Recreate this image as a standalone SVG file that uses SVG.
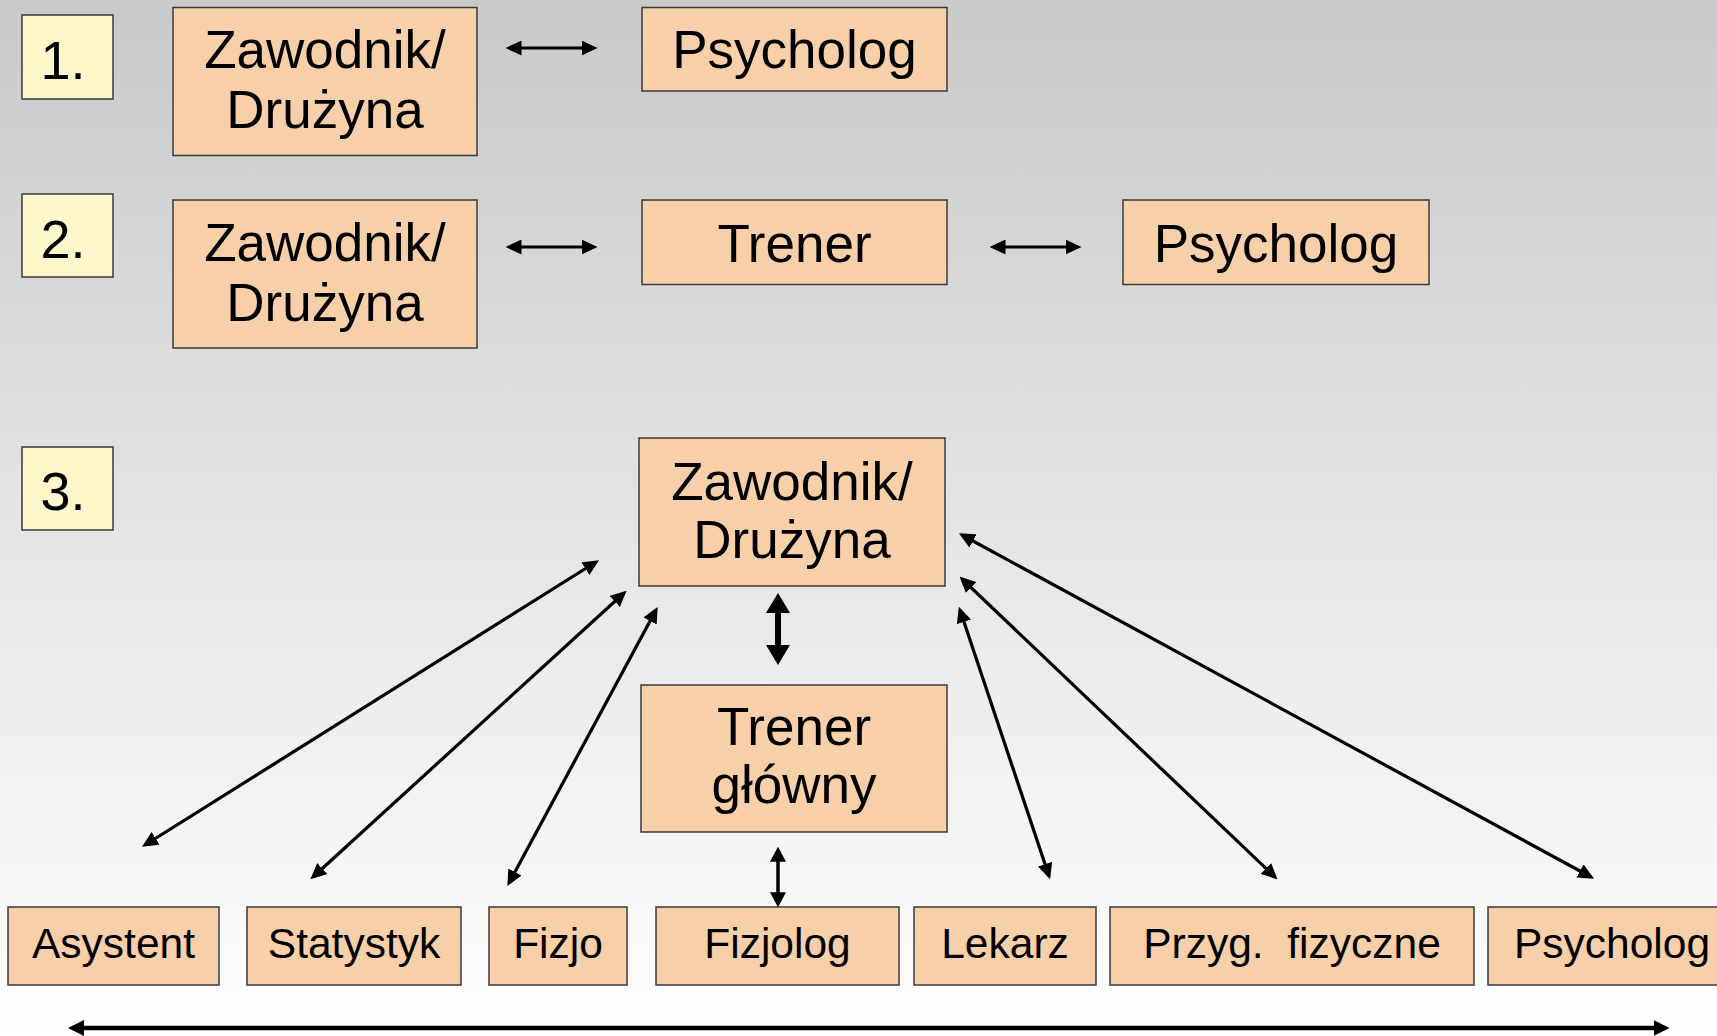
<svg xmlns="http://www.w3.org/2000/svg" width="1717" height="1036" viewBox="0 0 1717 1036">
<defs>
<linearGradient id="bg" x1="0" y1="0" x2="0" y2="1">
<stop offset="0" stop-color="#c9c9c9"/>
<stop offset="1" stop-color="#ffffff"/>
</linearGradient>
<marker id="mThin" viewBox="0 0 16 15" refX="12.5" refY="7.5" markerWidth="16" markerHeight="15" markerUnits="userSpaceOnUse" orient="auto-start-reverse"><path d="M0,0 L16,7.5 L0,15 z" fill="#000"/></marker>
<marker id="mSmall" viewBox="0 0 15 16" refX="11.7" refY="8" markerWidth="15" markerHeight="16" markerUnits="userSpaceOnUse" orient="auto-start-reverse"><path d="M0,0 L15,8 L0,16 z" fill="#000"/></marker>
<marker id="mLong" viewBox="0 0 16 16" refX="11.5" refY="8" markerWidth="16" markerHeight="16" markerUnits="userSpaceOnUse" orient="auto-start-reverse"><path d="M0,0 L16,8 L0,16 z" fill="#000"/></marker>
<marker id="mThick" viewBox="0 0 20 24" refX="15" refY="12" markerWidth="20" markerHeight="24" markerUnits="userSpaceOnUse" orient="auto-start-reverse"><path d="M0,0 L20,12 L0,24 z" fill="#000"/></marker>
</defs>
<style>
.box{fill:#f7cfa9;stroke:#3a3a3a;stroke-width:1.5}
.num{fill:#fff7cc;stroke:#3a3a3a;stroke-width:1.5}
.t{font-family:"Liberation Sans",Arial,sans-serif;fill:#000;text-anchor:middle}
.big{font-size:53px}
.sm{font-size:42.5px}
.nt{font-size:54px}
.c{fill:none;stroke:#000}
.c3{stroke-width:3.2;marker-start:url(#mThin);marker-end:url(#mThin)}
</style>
<rect x="0" y="0" width="1717" height="1036" fill="url(#bg)"/>

<g id="num1"><rect class="num" x="22" y="15" width="91" height="84"/><text class="t nt" x="63" y="79">1.</text></g>
<g id="num2"><rect class="num" x="22" y="194" width="91" height="83"/><text class="t nt" x="63" y="258">2.</text></g>
<g id="num3"><rect class="num" x="22" y="447" width="91" height="83"/><text class="t nt" x="63" y="510">3.</text></g>

<g id="zawodnik1"><rect class="box" x="173" y="7.5" width="304" height="148"/><text class="t big" x="325" y="68">Zawodnik/</text><text class="t big" x="325" y="128">Drużyna</text></g>
<g id="psycholog1"><rect class="box" x="642" y="7.5" width="305" height="83.5"/><text class="t big" x="794.5" y="68">Psycholog</text></g>

<g id="zawodnik2"><rect class="box" x="173" y="200" width="304" height="148"/><text class="t big" x="325" y="261">Zawodnik/</text><text class="t big" x="325" y="321">Drużyna</text></g>
<g id="trener2"><rect class="box" x="642" y="200" width="305" height="84.5"/><text class="t big" x="794.5" y="262">Trener</text></g>
<g id="psycholog2"><rect class="box" x="1123" y="200" width="306" height="84.5"/><text class="t big" x="1276" y="262">Psycholog</text></g>

<g id="zawodnik3"><rect class="box" x="639" y="438" width="306" height="148"/><text class="t big" x="792" y="500">Zawodnik/</text><text class="t big" x="792" y="558">Drużyna</text></g>
<g id="trenerGlowny"><rect class="box" x="641" y="685" width="306" height="147"/><text class="t big" x="794" y="745">Trener</text><text class="t big" x="794" y="803">główny</text></g>

<g id="asystent"><rect class="box" x="8" y="907" width="211" height="78"/><text class="t sm" x="113.5" y="958">Asystent</text></g>
<g id="statystyk"><rect class="box" x="247" y="907" width="214" height="78"/><text class="t sm" x="354" y="958">Statystyk</text></g>
<g id="fizjo"><rect class="box" x="489" y="907" width="138" height="78"/><text class="t sm" x="558" y="958">Fizjo</text></g>
<g id="fizjolog"><rect class="box" x="656" y="907" width="243" height="78"/><text class="t sm" x="777.5" y="958">Fizjolog</text></g>
<g id="lekarz"><rect class="box" x="914" y="907" width="182" height="78"/><text class="t sm" x="1005" y="958">Lekarz</text></g>
<g id="przyg"><rect class="box" x="1110" y="907" width="364" height="78"/><text class="t sm" x="1292" y="958" xml:space="preserve" style="white-space:pre">Przyg.  fizyczne</text></g>
<g id="psycholog3"><rect class="box" x="1488" y="907" width="252" height="78"/><text class="t sm" x="1612" y="958">Psycholog</text></g>

<g id="connectors">
<line class="c c3" x1="509" y1="48" x2="594" y2="48"/>
<line class="c c3" x1="509" y1="247" x2="594" y2="247"/>
<line class="c c3" x1="993" y1="247" x2="1078" y2="247"/>
<line class="c" stroke-width="6" marker-start="url(#mThick)" marker-end="url(#mThick)" x1="778" y1="598" x2="778" y2="660"/>
<line class="c" stroke-width="3.5" marker-start="url(#mSmall)" marker-end="url(#mSmall)" x1="778" y1="850" x2="778" y2="904"/>
<line class="c c3" x1="596" y1="562" x2="145" y2="845"/>
<line class="c c3" x1="624" y1="593" x2="313" y2="877"/>
<line class="c c3" x1="656" y1="610" x2="509" y2="883"/>
<line class="c c3" x1="960" y1="610" x2="1049" y2="876"/>
<line class="c c3" x1="962" y1="579" x2="1275" y2="877"/>
<line class="c c3" x1="962" y1="535" x2="1591" y2="877"/>
<line class="c" stroke-width="4.5" marker-start="url(#mLong)" marker-end="url(#mLong)" x1="72.5" y1="1028" x2="1665" y2="1028"/>
</g>
</svg>
